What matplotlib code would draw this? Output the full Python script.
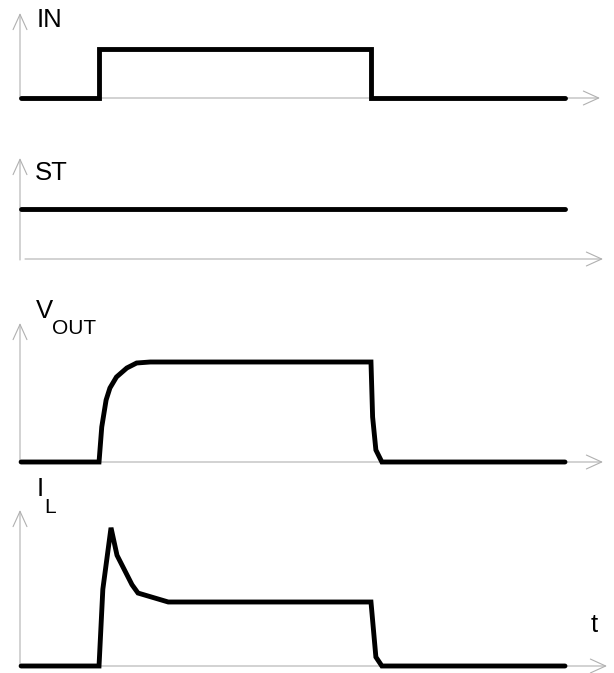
import matplotlib
matplotlib.use("Agg")
import matplotlib.pyplot as plt

plt.rcParams['font.family'] = ['Liberation Sans', 'DejaVu Sans']

# ---------------- data (time in arbitrary units, levels normalised) ----------------
t_in = [0.2, 14.5, 14.5, 64.4, 64.4, 100]
v_in = [0, 0, 1, 1, 0, 0]

t_st = [0.2, 100]
v_st = [1, 1]

t_vout = [0.2, 14.5, 15.0, 15.8, 16.5, 17.7, 19.6, 21.4, 23.9, 64.4, 64.7, 65.3, 66.4, 100]
v_vout = [0, 0, 0.35, 0.62, 0.74, 0.85, 0.94, 0.99, 1.0, 1.0, 0.45, 0.12, 0, 0]

t_il = [0.2, 14.5, 15.2, 16.7, 17.8, 20.55, 21.65, 27.2, 64.4, 65.3, 66.4, 100]
v_il = [0, 0, 1.20, 2.16, 1.73, 1.27, 1.14, 1.0, 1.0, 0.14, 0, 0]

# ---------------- layout ----------------
W, H = 614, 673
fig = plt.figure(figsize=(W / 100, H / 100), dpi=100)

X0 = 20.0          # px of vertical axes
SCALE = 5.45       # px per time unit

def add_panel(baseline, tip, xend, level_px, hstart=0.0, vdown=0.0):
    ax = fig.add_axes([X0 / W, (H - baseline) / H, (xend - X0) / W, (baseline - tip) / H])
    ax.set_xlim(0, (xend - X0) / SCALE)
    ax.set_ylim(0, (baseline - tip) / level_px)
    ax.axis('off')
    aprops = dict(arrowstyle='->,head_length=1.1,head_width=0.5', color='#b0b0b0',
                  lw=0.8, shrinkA=0, shrinkB=0, mutation_scale=10)
    ax.annotate('', xy=(1, 0), xytext=(hstart / (xend - X0), 0),
                xycoords='axes fraction', textcoords='axes fraction', arrowprops=aprops)
    ax.annotate('', xy=(0, 1), xytext=(0, -vdown / (baseline - tip)),
                xycoords='axes fraction', textcoords='axes fraction', arrowprops=aprops)
    return ax

def signal(ax, t, v):
    ax.plot(t, v, color='black', lw=3.5, solid_capstyle='round',
            solid_joinstyle='miter', clip_on=False, zorder=3)

ax1 = add_panel(baseline=98, tip=13, xend=600, level_px=49.5)
signal(ax1, t_in, v_in)

ax2 = add_panel(baseline=259, tip=158, xend=603, level_px=50, hstart=5, vdown=1)
signal(ax2, t_st, v_st)

ax3 = add_panel(baseline=462, tip=323, xend=603, level_px=100)
signal(ax3, t_vout, v_vout)

ax4 = add_panel(baseline=666, tip=510, xend=607, level_px=64)
signal(ax4, t_il, v_il)

def label(x, y, s, size):
    fig.text(x / W, 1 - y / H, s, fontsize=size, ha='left', va='baseline', color='black')

label(37, 27, 'IN', 18.5)
label(35, 180, 'ST', 18.5)
label(36, 318, 'V', 18.5)
label(52, 334, 'OUT', 15)
label(37, 496, 'I', 18.5)
label(44, 513, 'L', 15)
label(591, 632, 't', 18.5)

fig.savefig('out.png', dpi=100)
